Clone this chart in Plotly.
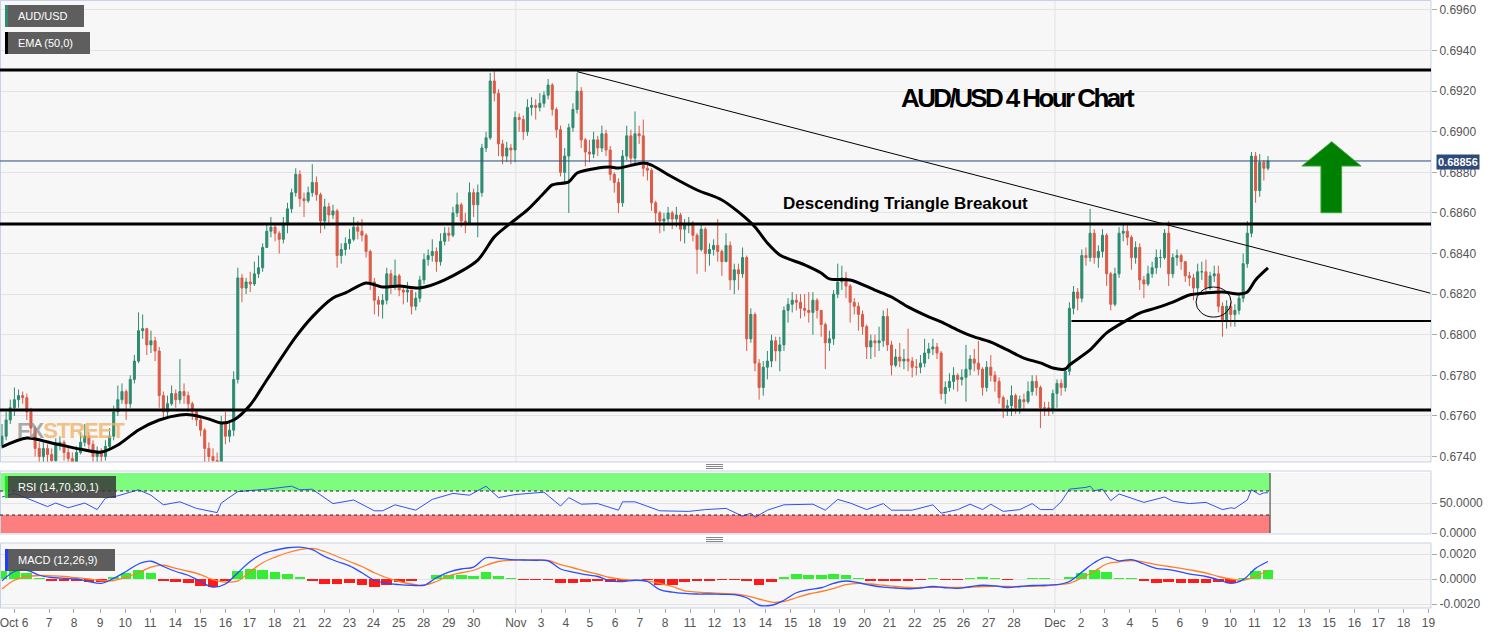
import plotly.graph_objects as go

W, H = 1501, 632

# ---------------- data (prices in pips above 0.6700) ----------------
first_open = 46
close_pips = [
    50, 58, 64, 68, 70, 69, 62,
    54, 44, 40, 44, 41, 38, 46, 47, 42, 39,
    37, 42, 47, 50, 46, 40, 42,
    40, 45, 50, 62, 68, 72,
    66, 78, 87, 102, 103, 95,
    97, 92, 70, 62, 66, 71,
    68, 72, 70, 66, 62, 58,
    53, 44, 40, 38, 36, 56, 50, 53,
    78, 128,
    123, 126, 125, 130, 133, 143,
    151, 153, 150, 147, 155, 162,
    170, 179, 167, 166, 170, 175,
    169, 156, 163, 159, 161, 139,
    142, 145, 147, 153, 151, 149,
    141, 126, 117, 115, 117, 130,
    124, 129, 122, 121, 122, 114,
    118, 127, 137, 139, 141, 136,
    146, 150, 149, 160, 164, 156,
    155, 170, 164, 170, 192, 197,
    225, 219, 194, 188, 192, 191,
    207, 206, 200, 212, 213, 212,
    214, 218, 223, 211, 201, 180,
    188, 202, 211, 220, 196, 190,
    189, 196, 192, 199, 191, 179,
    175, 165, 188, 198, 187, 199,
    198, 182, 181, 165, 160, 156,
    157, 160, 157, 159, 152, 154,
    155, 149, 142, 152, 140, 142,
    144, 141, 136, 144, 127, 132,
    130, 138, 98, 110, 86, 74,
    84, 87, 97, 92, 95, 112,
    115, 117, 116, 113, 112, 111,
    117, 112, 105, 96, 98, 120,
    126, 128, 124, 116, 114, 110,
    104, 94, 97, 96, 97, 109,
    95, 85, 89, 87, 88, 87,
    84, 84, 86, 91, 93, 94,
    91, 71, 74, 77, 80, 78,
    79, 83, 88, 86, 83, 74,
    84, 80, 77, 69, 64, 65,
    70, 64, 68, 67, 72, 77,
    74, 64, 64, 63, 71, 76,
    74, 82, 113, 121, 118, 139,
    138, 150, 138, 141, 149, 130,
    115, 130, 150, 151, 148, 138,
    143, 127, 125, 130, 133, 138,
    138, 150, 130, 138, 139, 136,
    129, 128, 123, 131, 131, 123,
    129, 130, 114, 107, 114, 110,
    112, 118, 135, 150, 188, 171,
    185, 182, 185.6,
]
high_pips = [
    56, 62, 68, 74, 73, 72, 71,
    64, 55, 47, 48, 46, 44, 49, 50, 48, 45,
    42, 45, 52, 56, 52, 48, 45,
    44, 48, 54, 65, 75, 76,
    73, 80, 90, 111, 110, 103,
    102, 99, 94, 72, 70, 75,
    73, 88, 76, 72, 67, 63,
    60, 54, 47, 44, 42, 60, 62, 57,
    82, 133,
    130, 128, 131, 136, 139, 145,
    155, 158, 155, 151, 158, 165,
    172, 182, 181, 170, 173, 184,
    178, 170, 167, 165, 164, 162,
    145, 148, 152, 158, 156, 157,
    150, 142, 128, 119, 120, 133,
    132, 137, 130, 124, 126, 122,
    121, 129, 140, 142, 147, 143,
    150, 153, 153, 163, 170, 165,
    160, 175, 172, 174, 194, 200,
    229, 230, 221, 196, 195, 194,
    210, 209, 208, 216, 217, 216,
    219, 220, 226, 224, 212, 203,
    192, 204, 214, 229, 222, 197,
    196, 200, 198, 203, 201, 193,
    180, 177, 191, 203, 201, 210,
    203, 206, 185, 182, 166, 161,
    160, 163, 161, 163, 160, 157,
    158, 156, 150, 155, 153, 145,
    147, 157, 142, 150, 146, 135,
    135, 143, 139, 113, 111, 88,
    87, 92, 100, 99, 99, 114,
    118, 121, 120, 120, 120, 121,
    121, 118, 112, 106, 102, 122,
    135, 134, 131, 125, 118, 116,
    112, 105, 100, 100, 104, 112,
    113, 97, 93, 96, 93, 103,
    89, 88, 90, 98, 96, 98,
    96, 92, 77, 81, 84, 81,
    83, 95, 90, 93, 97, 84,
    87, 90, 82, 79, 70, 68,
    75, 71, 70, 71, 77, 80,
    80, 75, 67, 67, 73, 78,
    78, 84, 116, 124, 123, 142,
    143, 162, 152, 144, 152, 150,
    131, 133, 153, 155, 154, 149,
    146, 145, 129, 134, 136, 142,
    142, 152, 156, 140, 142, 140,
    136, 131, 130, 135, 136, 137,
    131, 134, 134, 116, 117, 116,
    115, 120, 140, 156, 190, 190,
    189, 186, 188,
]
low_pips = [
    44, 48, 56, 60, 64, 66, 58,
    50, 40, 34, 37, 36, 33, 36, 43, 38, 35,
    32, 35, 41, 45, 43, 36, 36,
    35, 38, 44, 48, 60, 66,
    58, 64, 76, 86, 98, 90,
    91, 87, 64, 58, 59, 65,
    64, 66, 66, 62, 58, 55,
    50, 37, 34, 33, 30, 34, 46, 47,
    50, 76,
    116, 120, 121, 124, 128, 131,
    143, 148, 146, 140, 145, 150,
    160, 168, 163, 158, 165, 168,
    166, 150, 152, 154, 157, 133,
    135, 139, 142, 146, 147, 146,
    138, 122, 110, 109, 108, 115,
    120, 122, 119, 115, 116, 110,
    112, 116, 125, 134, 136, 131,
    134, 144, 146, 148, 158, 153,
    150, 155, 158, 148, 168, 190,
    196, 215, 188, 184, 185, 184,
    185, 200, 196, 198, 208, 206,
    210, 212, 216, 208, 197, 178,
    175, 160, 200, 209, 192, 183,
    185, 187, 188, 190, 188, 176,
    170, 160, 163, 186, 183, 184,
    194, 178, 176, 161, 155, 150,
    151, 154, 152, 153, 146, 145,
    150, 146, 130, 141, 131, 134,
    139, 136, 129, 136, 122, 120,
    122, 128, 92, 96, 82, 68,
    70, 78, 84, 87, 82, 92,
    106, 111, 112, 108, 109, 106,
    100, 108, 99, 83, 92, 95,
    118, 122, 118, 106, 110, 102,
    100, 88, 88, 89, 92, 94,
    92, 80, 84, 84, 83, 82,
    79, 80, 81, 84, 88, 90,
    88, 68, 66, 72, 73, 72,
    75, 67, 80, 82, 80, 70,
    72, 77, 72, 66, 59, 60,
    60, 61, 61, 63, 66, 70,
    70, 54, 60, 60, 61, 64,
    70, 72, 80, 110, 112, 116,
    134, 136, 135, 133, 138, 124,
    112, 114, 128, 146, 144, 132,
    135, 122, 118, 124, 128, 130,
    133, 137, 124, 128, 134, 132,
    126, 124, 117, 120, 127, 120,
    122, 126, 111, 99, 103, 104,
    104, 110, 116, 133, 148, 165,
    168, 176, 181,
]

ema_at = [0, 6, 12, 20, 24, 28, 33, 38, 43, 46, 50, 53, 56, 60, 64, 71, 75, 80, 83, 88,
          92, 96, 101, 107, 115, 119, 123, 127, 131, 133, 137, 139, 144, 147, 149, 155,
          157, 162, 168, 174, 178, 182, 185, 188, 194, 198, 200, 205, 211, 215, 219, 224,
          227, 231, 235, 239, 243, 247, 251, 254, 257, 258, 263, 267, 272, 275, 279, 283,
          287, 291, 295, 299, 301, 303, 306]
ema_pips = [44.7, 49.1, 46.7, 43.2, 42.2, 45.7, 53.1, 58.0, 60.5, 60.5, 58.5, 56.5, 58.0,
            65.4, 77.7, 98.9, 108.8, 118.1, 120.6, 125.5, 123.5, 124.0, 123.0, 127.0, 136.8,
            148.2, 155.1, 161.5, 169.8, 173.8, 175.3, 179.7, 182.1, 182.6, 182.1, 184.6,
            183.6, 177.7, 171.3, 166.4, 160.5, 153.1, 145.2, 139.3, 134.4, 130.4, 127.5,
            127.0, 122.0, 118.6, 113.7, 108.8, 106.3, 102.3, 98.9, 96.4, 92.5, 88.5, 86.1,
            83.6, 83.1, 85.1, 92.5, 100.9, 107.3, 110.7, 113.2, 116.1, 119.6, 120.6, 121.1,
            120.1, 121.1, 127.0, 132.9]

rsi_at = [0, 3, 6, 11, 13, 16, 20, 23, 25, 28, 33, 36, 39, 43, 47, 52, 53, 57, 64, 70, 72,
          75, 80, 85, 90, 92, 95, 100, 104, 109, 113, 117, 120, 124, 131, 135, 137, 140, 144,
          149, 150, 153, 159, 166, 170, 175, 179, 181, 182, 185, 189, 196, 199, 202, 205,
          209, 213, 215, 220, 225, 227, 231, 234, 237, 239, 242, 246, 249, 251, 254, 256,
          258, 262, 263, 264, 266, 268, 270, 273, 276, 281, 283, 287, 291, 295, 297, 298,
          301, 302, 304, 305, 306]
rsi_vals = [60, 66, 58, 44, 50, 42, 50, 39, 58, 62, 72, 63, 47, 52, 41, 34, 50, 69, 73, 78,
            72, 73, 49, 55, 37, 37, 47, 38, 56, 66, 63, 78, 59, 64, 68, 45, 59, 48, 49, 38,
            52, 52, 37, 36, 39, 41, 28, 33, 26, 38, 47, 48, 38, 56, 50, 39, 49, 38, 38, 47,
            33, 39, 48, 39, 48, 36, 39, 49, 39, 39, 52, 73, 76, 78, 70.5, 73, 54, 65, 58,
            51, 60, 53, 49, 51, 39, 42, 41, 55, 72, 64, 67, 67]

# MACD (12,26,9) in units of 0.001, one value every 3 candles
macd_step = 3
macd_vals = [-0.15, 0.6, 0.7, 0.3, 0.12, 0.05, 0.0, -0.2, -0.35, 0.05, 0.6, 1.2, 1.42, 1.0,
             0.6, 0.3, -0.2, -0.65, -0.4, 0.5, 1.4, 2.0, 2.3, 2.5, 2.55, 2.35, 1.8, 1.4, 1.05,
             0.5, -0.1, -0.35, -0.45, -0.5, -0.5, 0.1, 0.55, 0.8, 0.95, 1.7, 1.65, 1.55, 1.52,
             1.5, 1.45, 0.8, 0.55, 0.35, 0.2, -0.15, -0.2, -0.1, -0.2, -0.85, -1.05, -1.15,
             -1.2, -1.2, -1.23, -1.25, -1.5, -2.1, -2.1, -1.7, -1.1, -0.85, -0.7, -0.35,
             -0.16, -0.3, -0.5, -0.65, -0.72, -0.78, -0.72, -0.6, -0.7, -0.75, -0.62, -0.5,
             -0.55, -0.68, -0.6, -0.52, -0.5, -0.45, -0.2, 0.55, 1.3, 1.75, 1.45, 1.55, 1.2,
             0.85, 0.75, 0.55, 0.35, 0.2, -0.05, -0.35, -0.05, 0.85, 1.4]
signal_vals = [-0.8, -0.1, 0.2, 0.28, 0.25, 0.2, 0.1, 0.0, -0.12, -0.12, 0.15, 0.5, 0.95,
               1.1, 0.85, 0.62, 0.35, -0.05, -0.25, -0.15, 0.6, 1.3, 1.75, 2.1, 2.35, 2.45,
               2.2, 1.8, 1.4, 1.0, 0.5, 0.1, -0.2, -0.4, -0.5, -0.2, 0.25, 0.5, 0.7, 1.1,
               1.4, 1.5, 1.53, 1.52, 1.48, 1.15, 0.9, 0.62, 0.38, 0.12, -0.03, -0.1, -0.15,
               -0.35, -0.6, -0.95, -1.05, -1.1, -1.15, -1.2, -1.35, -1.6, -1.85, -1.8, -1.5,
               -1.2, -1.0, -0.75, -0.45, -0.35, -0.4, -0.5, -0.6, -0.68, -0.68, -0.66, -0.66,
               -0.68, -0.66, -0.6, -0.58, -0.6, -0.6, -0.58, -0.56, -0.45, -0.35, 0.1, 0.6,
               1.2, 1.38, 1.48, 1.35, 1.15, 1.0, 0.85, 0.68, 0.48, 0.2, 0.0, -0.1, 0.2, 0.7]

tick_pos = [2.9, 11.4, 17.4, 23.7, 29.8, 35.8, 41.9, 47.9, 54.0, 59.8, 65.9, 71.9, 78.0,
            84.0, 89.8, 95.9, 101.9, 108.0, 114.0, 124.2, 130.3, 136.3, 142.1, 148.2, 154.2,
            160.3, 166.3, 172.2, 178.2, 184.5, 190.6, 196.4, 202.4, 208.5, 214.5, 220.6,
            226.6, 232.4, 238.5, 244.6, 254.5, 260.8, 266.6, 272.6, 278.7, 284.7, 290.8,
            296.9, 302.7, 308.7, 314.8, 320.8, 326.9, 332.7, 338.8, 344.8]
tick_text = ["Oct 6", "7", "8", "9", "10", "11", "14", "15", "16", "17", "18", "21", "22",
             "23", "24", "25", "28", "29", "30", "Nov", "3", "4", "5", "6", "7", "8", "11",
             "12", "13", "14", "15", "18", "19", "20", "21", "22", "25", "26", "27", "28",
             "Dec", "2", "3", "4", "5", "6", "9", "10", "11", "12", "13", "15", "16", "17",
             "18", "19"]
month_ticks = [124.2, 254.5]

resistance_top = 0.69304
triangle_top = 0.68546
support_low = 0.67629
support_dec = 0.68068
support_dec_start = 258.5
trend_start = (139.0, 0.69296)
trend_end = (345.2, 0.68205)
last_price = 0.68856

# ---------------- helpers ----------------
def px(p):
    return 0.67 + p / 10000.0

def fx(v):
    return v / W

def fy(v):
    return 1 - v / H

n = len(close_pips)
xs = list(range(n))
opens = [first_open] + close_pips[:-1]
highs = [max(h, o, c) for h, o, c in zip(high_pips, opens, close_pips)]
lows = [min(l, o, c) for l, o, c in zip(low_pips, opens, close_pips)]

X_MIN, X_MAX = -0.483, 345.4
X_DOM_END = 1431 / W

fig = go.Figure()

fig.add_trace(go.Candlestick(
    x=xs, open=[px(v) for v in opens], high=[px(v) for v in highs],
    low=[px(v) for v in lows], close=[px(v) for v in close_pips],
    increasing=dict(line=dict(color="#2e8b70", width=1), fillcolor="#2e8b70"),
    decreasing=dict(line=dict(color="#dc5a47", width=1), fillcolor="#dc5a47"),
    whiskerwidth=0, hoverinfo="skip", showlegend=False, xaxis="x", yaxis="y"))

fig.add_trace(go.Scatter(
    x=ema_at, y=[px(v) for v in ema_pips], mode="lines",
    line=dict(color="black", width=3, shape="spline", smoothing=0.8),
    hoverinfo="skip", showlegend=False, xaxis="x", yaxis="y"))

fig.add_trace(go.Scatter(
    x=rsi_at, y=rsi_vals, mode="lines", line=dict(color="#3152f0", width=1),
    hoverinfo="skip", showlegend=False, xaxis="x", yaxis="y2"))

macd_x = [i * macd_step for i in range(len(macd_vals))]
hist = [m - s for m, s in zip(macd_vals, signal_vals)]
fig.add_trace(go.Bar(
    x=macd_x, y=[h * 0.001 for h in hist], width=2.6,
    marker=dict(color=["#33ee33" if h >= 0 else "#ff1a1a" for h in hist], line=dict(width=0)),
    hoverinfo="skip", showlegend=False, xaxis="x", yaxis="y3"))
fig.add_trace(go.Scatter(
    x=macd_x, y=[v * 0.001 for v in signal_vals], mode="lines",
    line=dict(color="#ff7f27", width=1.3, shape="spline"),
    hoverinfo="skip", showlegend=False, xaxis="x", yaxis="y3"))
fig.add_trace(go.Scatter(
    x=macd_x, y=[v * 0.001 for v in macd_vals], mode="lines",
    line=dict(color="#2b4cff", width=1.3, shape="spline"),
    hoverinfo="skip", showlegend=False, xaxis="x", yaxis="y3"))

shapes = []
main_dom = [fy(462), 1.0]
rsi_dom = [fy(533), fy(473)]
macd_dom = [fy(608), fy(543)]
border = "#c9d2e3"

for (top, bot) in [(0.5, 462), (471, 534), (543, 608)]:
    shapes.append(dict(type="rect", xref="paper", yref="paper", x0=fx(0.5), x1=X_DOM_END,
                       y0=fy(bot), y1=fy(top), line=dict(color=border, width=1), layer="above"))

for m in month_ticks:
    for ref in ["y domain", "y2 domain", "y3 domain"]:
        shapes.append(dict(type="line", xref="x", yref=ref, x0=m, x1=m, y0=0, y1=1,
                           line=dict(color="#e2e2e2", width=1), layer="below"))

band_end = n - 0.5
shapes.append(dict(type="rect", xref="x", yref="y2", x0=X_MIN, x1=band_end, y0=70, y1=100,
                   fillcolor="#7dfc7d", line=dict(width=0), layer="below"))
shapes.append(dict(type="rect", xref="x", yref="y2", x0=X_MIN, x1=band_end, y0=0, y1=30,
                   fillcolor="#fd7e7e", line=dict(width=0), layer="below"))
for lvl in [70, 30]:
    shapes.append(dict(type="line", xref="x", yref="y2", x0=X_MIN, x1=band_end, y0=lvl, y1=lvl,
                       line=dict(color="#222", width=1, dash="dot")))
shapes.append(dict(type="line", xref="x", yref="y2", x0=band_end, x1=band_end, y0=0, y1=100,
                   line=dict(color="#333", width=1)))

for lvl in [resistance_top, triangle_top, support_low]:
    shapes.append(dict(type="line", xref="x", yref="y", x0=X_MIN, x1=X_MAX, y0=lvl, y1=lvl,
                       line=dict(color="black", width=3)))
shapes.append(dict(type="line", xref="x", yref="y", x0=support_dec_start, x1=X_MAX,
                   y0=support_dec, y1=support_dec, line=dict(color="black", width=2)))
shapes.append(dict(type="line", xref="x", yref="y", x0=trend_start[0], x1=trend_end[0],
                   y0=trend_start[1], y1=trend_end[1], line=dict(color="black", width=1)))
shapes.append(dict(type="line", xref="x", yref="y", x0=X_MIN, x1=X_MAX, y0=last_price,
                   y1=last_price, line=dict(color="#2d4a78", width=1)))
shapes.append(dict(type="circle", xref="x", yref="y", x0=288.6, x1=297.1, y0=px(108.7),
                   y1=px(123.5), line=dict(color="black", width=1)))
ax_l, ax_tip, ax_r = 314.2, 321.4, 328.5
sh_l, sh_r = 318.8, 323.8
y_tip, y_head, y_bot = 0.68951, 0.68831, 0.68601
path = (f"M {ax_l},{y_head} L {ax_tip},{y_tip} L {ax_r},{y_head} L {sh_r},{y_head} "
        f"L {sh_r},{y_bot} L {sh_l},{y_bot} L {sh_l},{y_head} Z")
shapes.append(dict(type="path", xref="x", yref="y", path=path, fillcolor="#008000",
                   line=dict(color="#3aa83a", width=1)))

for base in [464.5, 537.5]:
    for k in range(3):
        shapes.append(dict(type="line", xref="paper", yref="paper", x0=fx(706), x1=fx(723),
                           y0=fy(base + 2 * k), y1=fy(base + 2 * k),
                           line=dict(color="#888", width=1)))

boxes = [
    ((5, 5, 84, 27), "#5e5e5e", "#2e8b70", "AUD/USD"),
    ((5, 32, 90, 54), "#5e5e5e", "#000000", "EMA (50,0)"),
    ((5, 476, 116, 498), "rgba(55,55,55,0.85)", "#22e022", "RSI (14,70,30,1)"),
    ((5, 549, 115, 571), "rgba(75,75,75,0.9)", "#1f3cff", "MACD (12,26,9)"),
]
annotations = []
for (x0, y0, x1, y1), bg, bar, label in boxes:
    shapes.append(dict(type="rect", xref="paper", yref="paper", x0=fx(x0), x1=fx(x1),
                       y0=fy(y1), y1=fy(y0), fillcolor=bg, line=dict(width=0), layer="above"))
    shapes.append(dict(type="rect", xref="paper", yref="paper", x0=fx(x0), x1=fx(x0 + 3),
                       y0=fy(y1), y1=fy(y0), fillcolor=bar, line=dict(width=0), layer="above"))
    annotations.append(dict(xref="paper", yref="paper", x=fx(x0 + 11), y=fy((y0 + y1) / 2),
                            text=label, showarrow=False, xanchor="left", yanchor="middle",
                            font=dict(family="Liberation Sans, Arial", size=11, color="white")))

annotations.append(dict(xref="paper", yref="paper", x=fx(1018), y=fy(98),
                        text="<b><span style='letter-spacing:-2.6px'>AUD/USD 4 Hour Chart</span></b>",
                        showarrow=False, xanchor="center", yanchor="middle",
                        font=dict(family="Liberation Sans, Arial", size=26, color="black")))
annotations.append(dict(xref="paper", yref="paper", x=fx(905), y=fy(204),
                        text="<b>Descending Triangle Breakout</b>", showarrow=False,
                        xanchor="center", yanchor="middle",
                        font=dict(family="Liberation Sans, Arial", size=17, color="black")))
annotations.append(dict(xref="paper", yref="paper", x=fx(1458), y=fy(162),
                        text="<b>0.68856</b>", showarrow=False, xanchor="center",
                        yanchor="middle", bgcolor="#2d4a78", borderpad=1,
                        font=dict(family="Liberation Sans, Arial", size=11, color="white")))
annotations.append(dict(xref="paper", yref="paper", x=fx(15), y=fy(430),
                        text="<b><span style='letter-spacing:-1px'><span style='color:#8f8f8f'>FX</span><span style='color:#f0b060'>STREET</span></span></b>",
                        showarrow=False, xanchor="left", yanchor="middle", opacity=0.75,
                        font=dict(family="Liberation Sans, Arial", size=22)))

axis_font = dict(family="Liberation Sans, Arial", size=12, color="#555")
fig.update_layout(
    width=W, height=H, margin=dict(l=0, r=0, t=0, b=0, autoexpand=False),
    paper_bgcolor="white", plot_bgcolor="#f7f7f7",
    showlegend=False, bargap=0,
    xaxis=dict(domain=[0, X_DOM_END], range=[X_MIN, X_MAX], anchor="y3",
               tickvals=tick_pos, ticktext=tick_text, ticks="outside", ticklen=4,
               tickcolor="#aaa", showgrid=False, zeroline=False, showline=False,
               rangeslider=dict(visible=False), tickfont=axis_font, fixedrange=True,
               automargin=False, ticklabeloverflow="allow"),
    yaxis=dict(domain=main_dom, range=[0.67373, 0.69649], side="right", anchor="x",
               tickvals=[0.674 + 0.002 * k for k in range(12)], tickformat=".4f",
               gridcolor="#e3e3e3", ticks="outside", ticklen=5, tickcolor="#aaa",
               zeroline=False, tickfont=axis_font, automargin=False),
    yaxis2=dict(domain=rsi_dom, range=[0, 100], side="right", anchor="x",
                tickvals=[0, 50], ticktext=["0.0000", "50.0000"], gridcolor="#e3e3e3",
                ticks="outside", ticklen=5, tickcolor="#aaa", zeroline=False,
                tickfont=axis_font, automargin=False),
    yaxis3=dict(domain=macd_dom, range=[-0.00232, 0.00288], side="right", anchor="x",
                tickvals=[-0.002, 0, 0.002], ticktext=["-0.0020", "0.0000", "0.0020"],
                gridcolor="#e3e3e3", ticks="outside", ticklen=5, tickcolor="#aaa",
                zeroline=False, tickfont=axis_font, automargin=False),
    shapes=shapes, annotations=annotations,
)

fig.write_html("out.html", config={"displayModeBar": False},
               post_script="document.body.style.margin='0';document.body.style.padding='0';")
